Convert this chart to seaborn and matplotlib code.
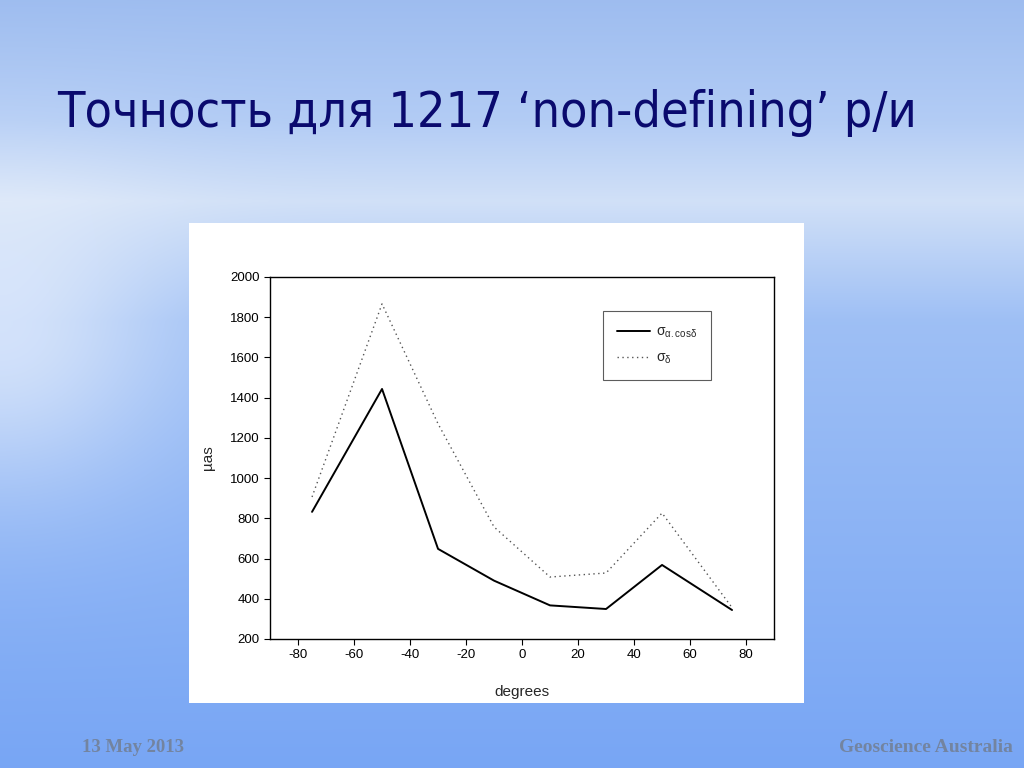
import numpy as np
import pandas as pd
import seaborn as sns
import matplotlib
matplotlib.use("Agg")
import matplotlib.pyplot as plt

# values
degrees = [-75, -50, -30, -10, 10, 30, 50, 75]
sigma_ra = [832, 1443, 648, 490, 367, 349, 568, 344]
sigma_dec = [906, 1866, 1270, 757, 508, 528, 826, 356]
x_ticks = [-80, -60, -40, -20, 0, 20, 40, 60, 80]
y_ticks = [200, 400, 600, 800, 1000, 1200, 1400, 1600, 1800, 2000]

title = "Точность для 1217 ‘non-defining’ р/и"
label_ra = r"σ$_{\mathrm{α.cosδ}}$"
label_dec = r"σ$_{\mathrm{δ}}$"

sns.set_style("ticks")
plt.rcParams["font.family"] = ["Liberation Sans", "DejaVu Sans"]
plt.rcParams["mathtext.fontset"] = "custom"
plt.rcParams["mathtext.rm"] = "Liberation Sans"
plt.rcParams["axes.unicode_minus"] = False

fig = plt.figure(figsize=(10.24, 7.68), dpi=100)

# sky-like slide background
h, w = 384, 512
yy, xx = np.mgrid[0:h, 0:w] / np.array([h, w])[:, None, None] * np.array([768, 1024])[:, None, None]
stops_y = [0, 120, 200, 320, 768]
stops_c = np.array([[0.62, 0.74, 0.94],
                    [0.70, 0.80, 0.96],
                    [0.82, 0.88, 0.97],
                    [0.62, 0.75, 0.96],
                    [0.47, 0.65, 0.96]])
bg = np.stack([np.interp(yy, stops_y, stops_c[:, k]) for k in range(3)], axis=-1)
glow = 0.55 * np.exp(-(xx / 170.0) ** 2 - ((yy - 330) / 160.0) ** 2)
bg = bg + (1 - bg) * glow[..., None]
bg_ax = fig.add_axes([0, 0, 1, 1])
bg_ax.imshow(np.clip(bg, 0, 1), aspect="auto", interpolation="bilinear")
bg_ax.axis("off")

# white panel behind the chart
panel = fig.add_axes([0.1846, 0.0846, 0.6006, 0.625])
panel.set_facecolor("white")
panel.set_xticks([])
panel.set_yticks([])
for s in panel.spines.values():
    s.set_visible(False)

fig.text(0.056, 0.853, title, fontsize=36, color="#0a0a6e", va="center",
         family=["DejaVu Sans"], fontstretch="condensed")
fig.text(0.080, 0.021, "13 May 2013", fontsize=13.5, color="#7384a0",
         family=["Liberation Serif"], weight="bold")
fig.text(0.989, 0.021, "Geoscience Australia", fontsize=14, color="#7384a0",
         family=["Liberation Serif"], weight="bold", ha="right")

ax = fig.add_axes([0.2637, 0.1680, 0.4922, 0.4714])
ax.set_facecolor("white")
df_ra = pd.DataFrame({"deg": degrees, "val": sigma_ra})
df_dec = pd.DataFrame({"deg": degrees, "val": sigma_dec})
sns.lineplot(data=df_ra, x="deg", y="val", ax=ax, color="black", lw=1.4, label=label_ra)
sns.lineplot(data=df_dec, x="deg", y="val", ax=ax, color="#555555", lw=1.0,
             linestyle=(0, (1, 2.5)), label=label_dec)

ax.set_xlim(-90, 90)
ax.set_ylim(200, 2000)
ax.set_xticks(x_ticks)
ax.set_yticks(y_ticks)
ax.tick_params(direction="out", length=4, width=0.8, labelsize=9.5, colors="black")
for s in ax.spines.values():
    s.set_visible(True)
    s.set_color("black")
    s.set_linewidth(1.0)
ax.set_xlabel("degrees", fontsize=11, labelpad=17)
ax.set_ylabel("µas", fontsize=11, labelpad=11)

leg = ax.legend(loc="upper left", bbox_to_anchor=(0.661, 0.906), borderaxespad=0,
                fontsize=10, frameon=True, fancybox=False, handlelength=2.4,
                borderpad=1.0, labelspacing=0.75, handletextpad=0.4)
leg.get_frame().set_edgecolor("#333333")
leg.get_frame().set_linewidth(0.8)

fig.savefig("out.png", dpi=100)
